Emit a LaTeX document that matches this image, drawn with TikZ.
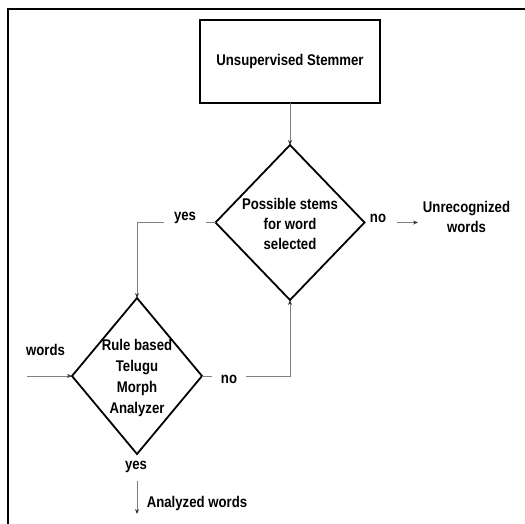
\documentclass[tikz,border=0pt]{standalone}
\usepackage{fontspec}
\setmainfont{Liberation Sans}[FakeStretch=0.85]
\usetikzlibrary{shapes.geometric,arrows.meta}

\begin{document}
\begin{tikzpicture}[x=1pt,y=-1pt,
  every node/.style={font=\fontsize{15.5}{20}\selectfont\bfseries, inner sep=1pt},
  txt/.style={align=center},
  flow/.style={draw=black!50, line width=1pt},
  arr/.style={flow, -{Stealth[length=5pt,width=4pt,black!80]}},
  decision/.style={shape=diamond, draw=black, line width=1.8pt, inner sep=0pt, outer sep=0pt},
  process/.style={draw=black, line width=1.8pt, minimum width=180pt, minimum height=83pt, outer sep=0pt}]
\useasboundingbox (0,0) rectangle (525,523);

% page frame (open to the right and bottom)
\begin{scope}
  \clip (0,0) rectangle (525,523);
  \draw[line width=2.6pt] (8,540) -- (8,9) -- (540,9);
\end{scope}

% stemmer box
\node[process] (stem) at (290,61.5) {Unsupervised Stemmer};

% first decision
\node[decision, minimum width=149pt, minimum height=155pt] (d1) at (290,222.5) {};
\node[txt] (d1text) at (290,224) {Possible stems\\for word\\selected};

% second decision
\node[decision, minimum width=130pt, minimum height=156pt] (d2) at (137,376) {};
\node[txt, font=\fontsize{15.5}{21}\selectfont\bfseries] (d2text) at (137,378) {Rule based\\Telugu\\Morph\\Analyzer};

% branch labels
\node[inner xsep=10pt] (yes1) at (185,218) {yes};
\node[inner xsep=11pt] (no1) at (378,218) {no};
\node[inner xsep=9pt] (no2) at (229,379) {no};
\node (yes2) at (136,467) {yes};

% outputs and input
\node[txt] (unrec) at (466.5,217) {Unrecognized\\words};
\node (analyzed) at (197,503) {Analyzed words};
\node (words) at (45.5,350) {words};
\coordinate (unrecin) at (418,222.5);
\coordinate (wordsin) at (27,376);
\coordinate (out) at (137,514);

% connectors
\draw[arr] (stem.south) -- (d1.north);
\draw[flow] (d1.west) -- (d1.west -| yes1.east);
\draw[arr] (d1.west -| yes1.west) -| (d2.north);
\draw[arr] (d1.east -| no1.east) -- (unrecin);
\draw[arr] (wordsin) -- (d2.west);
\draw[flow] (d2.east) -- (d2.east -| no2.west);
\draw[arr] (d2.east -| no2.east) -| (d1.south);
\draw[arr] ([yshift=-7pt]yes2.south -| d2.south) -- (out);
\end{tikzpicture}
\end{document}
